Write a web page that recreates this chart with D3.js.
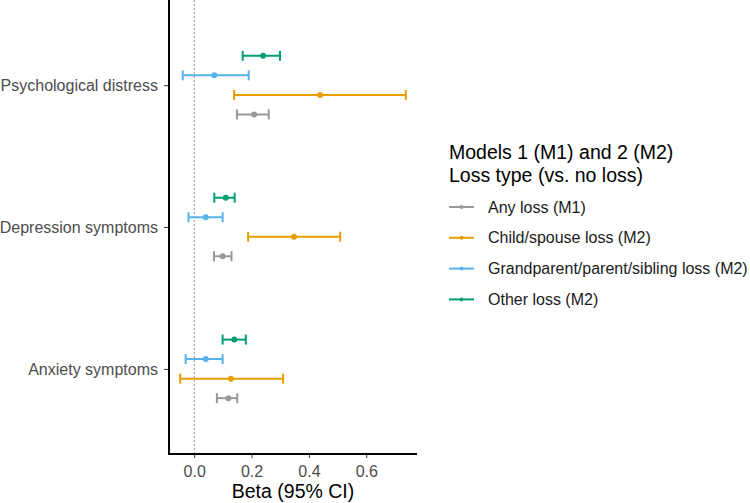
<!DOCTYPE html>
<html><head><meta charset="utf-8">
<script src="https://cdn.jsdelivr.net/npm/d3@7"></script>
<style>body{margin:0;background:#fff}svg{display:block}text{font-family:"Liberation Sans",Arial,Helvetica,sans-serif}</style>
</head><body><svg id="c" width="750" height="503"></svg>
<script>
const outcomes = ["Anxiety symptoms","Depression symptoms","Psychological distress"];
const seriesNames = ["Any loss (M1)","Child/spouse loss (M2)","Grandparent/parent/sibling loss (M2)","Other loss (M2)"];
const seriesColors = ["#999999","#E69F00","#56B4E9","#009E73"];
// estimates per series, per outcome (Anxiety, Depression, Psychological)
const est   = [[0.119,0.099,0.209],[0.128,0.348,0.439],[0.040,0.040,0.070],[0.140,0.110,0.240]];
const lower = [[0.079,0.069,0.149],[-0.049,0.188,0.139],[-0.030,-0.020,-0.040],[0.099,0.070,0.169]];
const upper = [[0.150,0.130,0.260],[0.310,0.509,0.738],[0.099,0.099,0.190],[0.180,0.141,0.299]];
const xTicks = [0,0.2,0.4,0.6];

const svg = d3.select("#c");
const L=169, R=417, T=0, B=454;
const x = d3.scaleLinear().domain([-0.088,0.777]).range([L,R]);
const y = d3.scaleLinear().domain([0.4,3.6]).range([B,T]);
const dodge = 0.55;

const rows=[];
seriesNames.forEach((s,i)=>outcomes.forEach((o,j)=>rows.push({s:i,o:j,e:est[i][j],lo:lower[i][j],hi:upper[i][j]})));
const yPos = d=> y(d.o+1 - dodge/2 + dodge/4*(d.s+0.5));

// zero line
svg.append("line").attr("x1",x(0)).attr("x2",x(0)).attr("y1",T).attr("y2",B)
  .attr("stroke","#777").attr("stroke-width",0.8).attr("stroke-dasharray","2,2");

const g = svg.append("g");
rows.forEach(d=>{
  const c=seriesColors[d.s], yy=yPos(d);
  g.append("line").attr("x1",x(d.lo)).attr("x2",x(d.hi)).attr("y1",yy).attr("y2",yy).attr("stroke",c).attr("stroke-width",2);
  [d.lo,d.hi].forEach(v=>g.append("line").attr("x1",x(v)).attr("x2",x(v)).attr("y1",yy-5).attr("y2",yy+5).attr("stroke",c).attr("stroke-width",2));
  g.append("circle").attr("cx",x(d.e)).attr("cy",yy).attr("r",3).attr("fill",c);
});

// axes
const xa = svg.append("g").attr("transform",`translate(0,${B})`)
  .call(d3.axisBottom(x).tickValues(xTicks).tickFormat(d3.format(".1f")).tickSize(4).tickSizeOuter(0));
xa.select(".domain").remove();
xa.selectAll("line").attr("stroke","#333");
xa.selectAll("text").attr("font-size",16).attr("fill","#4d4d4d").attr("y",10).attr("dy","0.8em").attr("font-family","Liberation Sans, Arial, sans-serif");
svg.append("line").attr("x1",L-1).attr("x2",R).attr("y1",B).attr("y2",B).attr("stroke","#000").attr("stroke-width",2);

const ya = svg.append("g").attr("transform",`translate(${L},0)`)
  .call(d3.axisLeft(y).tickValues([1,2,3]).tickFormat(d=>outcomes[d-1]).tickSize(5).tickSizeOuter(0));
ya.select(".domain").remove();
ya.selectAll("line").attr("stroke","#333");
ya.selectAll("text").attr("font-size",16).attr("fill","#4d4d4d").attr("x",-11).attr("font-family","Liberation Sans, Arial, sans-serif");
svg.append("line").attr("x1",L).attr("x2",L).attr("y1",T).attr("y2",B+1).attr("stroke","#000").attr("stroke-width",2);

svg.append("text").attr("x",(L+R)/2).attr("y",498).attr("text-anchor","middle").attr("font-size",19.5).attr("fill","#000").text("Beta (95% CI)");

// legend
const lg = svg.append("g");
lg.append("text").attr("x",449).attr("y",159).attr("font-size",19.5).text("Models 1 (M1) and 2 (M2)");
lg.append("text").attr("x",449).attr("y",182).attr("font-size",19.5).text("Loss type (vs. no loss)");
seriesNames.forEach((s,i)=>{
  const yy = 207 + i*30.8;
  lg.append("line").attr("x1",449).attr("x2",474).attr("y1",yy).attr("y2",yy).attr("stroke",seriesColors[i]).attr("stroke-width",2);
  lg.append("circle").attr("cx",461.5).attr("cy",yy).attr("r",2).attr("fill",seriesColors[i]);
  lg.append("text").attr("x",488).attr("y",yy).attr("dy","0.35em").attr("font-size",16).attr("fill","#1a1a1a").text(s);
});
</script></body></html>
